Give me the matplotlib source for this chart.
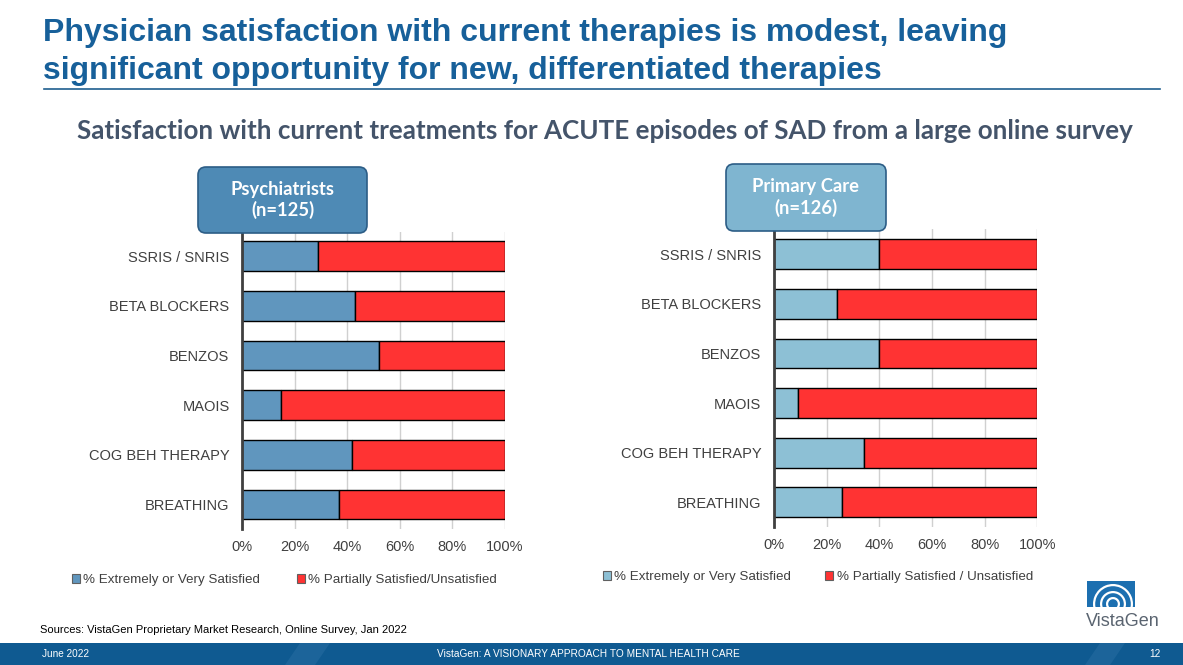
import matplotlib
matplotlib.use("Agg")
import matplotlib.pyplot as plt
from matplotlib.patches import FancyBboxPatch, Rectangle, Polygon, Wedge
import numpy as np

# ---------------- data ----------------
categories = ["SSRIS / SNRIS", "BETA BLOCKERS", "BENZOS", "MAOIS",
              "COG BEH THERAPY", "BREATHING"]
psych_satisfied = [29, 43, 52, 15, 42, 37]
pcp_satisfied = [40, 24, 40, 9, 34, 26]
psych_unsat = [100 - v for v in psych_satisfied]
pcp_unsat = [100 - v for v in pcp_satisfied]
xticks = [0, 20, 40, 60, 80, 100]
xtick_labels = ["0%", "20%", "40%", "60%", "80%", "100%"]
legend_left = ["% Extremely or Very Satisfied", "% Partially Satisfied/Unsatisfied"]
legend_right = ["% Extremely or Very Satisfied", "% Partially Satisfied / Unsatisfied"]

W, H = 1183, 665
fig = plt.figure(figsize=(W / 100, H / 100), dpi=100)
fig.patch.set_facecolor("white")

RED = "#FF3333"
BLUE_L = "#6096BE"
BLUE_R = "#8DC0D5"
GRAY = "#404040"

def ax_rect(x0, y0, x1, y1):
    return [x0 / W, 1 - y1 / H, (x1 - x0) / W, (y1 - y0) / H]

def draw_chart(rect, sat, unsat, blue, legend_labels, leg_y, leg_x, colsp):
    ax = fig.add_axes(rect)
    y = np.arange(len(categories))
    b1 = ax.barh(y, sat, height=0.6, color=blue, edgecolor="black", linewidth=1, zorder=3)
    b2 = ax.barh(y, unsat, left=sat, height=0.6, color=RED, edgecolor="black", linewidth=1, zorder=3)
    ax.set_ylim(len(categories) - 0.5, -0.5)
    ax.set_xlim(0, 100)
    ax.set_yticks(y)
    ax.set_yticklabels(categories, fontsize=10.5, color=GRAY, family="Liberation Sans")
    ax.set_xticks(xticks)
    ax.set_xticklabels(xtick_labels, fontsize=10.5, color=GRAY, family="Liberation Sans")
    ax.tick_params(axis="both", length=0)
    ax.tick_params(axis="y", pad=9)
    ax.tick_params(axis="x", pad=8)
    ax.grid(axis="x", color="#D0D0D0", linewidth=1, zorder=0)
    for s in ["top", "right", "bottom"]:
        ax.spines[s].set_visible(False)
    ax.spines["left"].set_color(GRAY)
    ax.spines["left"].set_linewidth(2)
    ax.spines["left"].set_zorder(4)
    ax.set_facecolor("none")
    leg = fig.legend([b1, b2], legend_labels, loc="center left",
                     bbox_to_anchor=(leg_x / W, 1 - leg_y / H), ncol=2, frameon=False,
                     handlelength=0.6, handleheight=0.6, handletextpad=0.25,
                     columnspacing=colsp, borderaxespad=0, borderpad=0,
                     prop={"family": "Liberation Sans", "size": 9.6})
    for t in leg.get_texts():
        t.set_color(GRAY)
    for h in leg.legend_handles:
        h.set_edgecolor("#606060")
        h.set_linewidth(0.8)
    return ax

draw_chart(ax_rect(242, 231.5, 505, 529.3), psych_satisfied, psych_unsat, BLUE_L,
           legend_left, 580, 72, 2.75)
draw_chart(ax_rect(774, 229.5, 1037.3, 527), pcp_satisfied, pcp_unsat, BLUE_R,
           legend_right, 577, 603, 2.55)

# ---------------- decorations (pixel overlay) ----------------
ov = fig.add_axes([0, 0, 1, 1], zorder=10)
ov.set_xlim(0, W)
ov.set_ylim(H, 0)
ov.axis("off")
ov.patch.set_alpha(0)

ov.text(43, 33, "Physician satisfaction with current therapies is modest, leaving",
        fontsize=23, fontweight="bold", color="#17609A", family="Liberation Sans",
        ha="left", va="center")
ov.text(43, 71, "significant opportunity for new, differentiated therapies",
        fontsize=23, fontweight="bold", color="#17609A", family="Liberation Sans",
        ha="left", va="center")
ov.plot([44, 1160], [88.5, 88.5], color="#1F5F8F", linewidth=1.2)

ov.text(605, 131, "Satisfaction with current treatments for ACUTE episodes of SAD from a large online survey",
        fontsize=18.7, fontweight="bold", color="#44546A", family="Lato",
        ha="center", va="center")

def label_box(x0, y0, x1, y1, fc, ec, text):
    p = FancyBboxPatch((x0 + 8, y0 + 8), x1 - x0 - 16, y1 - y0 - 16,
                       boxstyle="round,pad=8", facecolor=fc, edgecolor=ec, linewidth=1.2)
    ov.add_patch(p)
    ov.text((x0 + x1) / 2, (y0 + y1) / 2, text, ha="center", va="center",
            color="white", fontsize=13.2, fontweight="bold", family="Lato",
            linespacing=1.25)

label_box(198, 167, 367, 233, "#4E8AB5", "#2C5D86", "Psychiatrists\n(n=125)")
label_box(726, 164, 886, 231, "#7FB5D0", "#2C5D86", "Primary Care\n(n=126)")

ov.text(40, 630, "Sources: VistaGen Proprietary Market Research, Online Survey, Jan 2022",
        fontsize=8, color="black", family="Liberation Sans", ha="left", va="center")

# bottom banner
ov.add_patch(Rectangle((0, 643), W, 22, facecolor="#0F5A91", edgecolor="none"))
ov.add_patch(Polygon([(285, 665), (300, 643), (330, 643), (315, 665)],
                     facecolor="#2A6FA3", edgecolor="none", alpha=0.5))
ov.add_patch(Polygon([(1085, 665), (1100, 643), (1125, 643), (1110, 665)],
                     facecolor="#2A6FA3", edgecolor="none", alpha=0.5))
ov.text(42, 654, "June 2022", fontsize=7.2, color="white", family="Liberation Sans",
        ha="left", va="center")
ov.text(588, 654, "VistaGen: A VISIONARY APPROACH TO MENTAL HEALTH CARE", fontsize=7.3,
        color="white", family="Liberation Sans", ha="center", va="center")
ov.text(1161, 654, "12", fontsize=7.2, color="white", family="Liberation Sans",
        ha="right", va="center")

# logo
ov.add_patch(Rectangle((1087, 581), 48, 26, facecolor="#1C6FB0", edgecolor="none"))
for r in [20, 13, 7]:
    ov.add_patch(Wedge((1113, 604), r, 0, 360, width=2.2, facecolor="white",
                       edgecolor="none"))
ov.add_patch(Rectangle((1087, 607), 48, 6, facecolor="white", edgecolor="none"))
ov.text(1123, 621, "VistaGen", fontsize=13, color="#5A6470", family="Liberation Sans",
        ha="center", va="center")

fig.savefig("out.png", dpi=100)
